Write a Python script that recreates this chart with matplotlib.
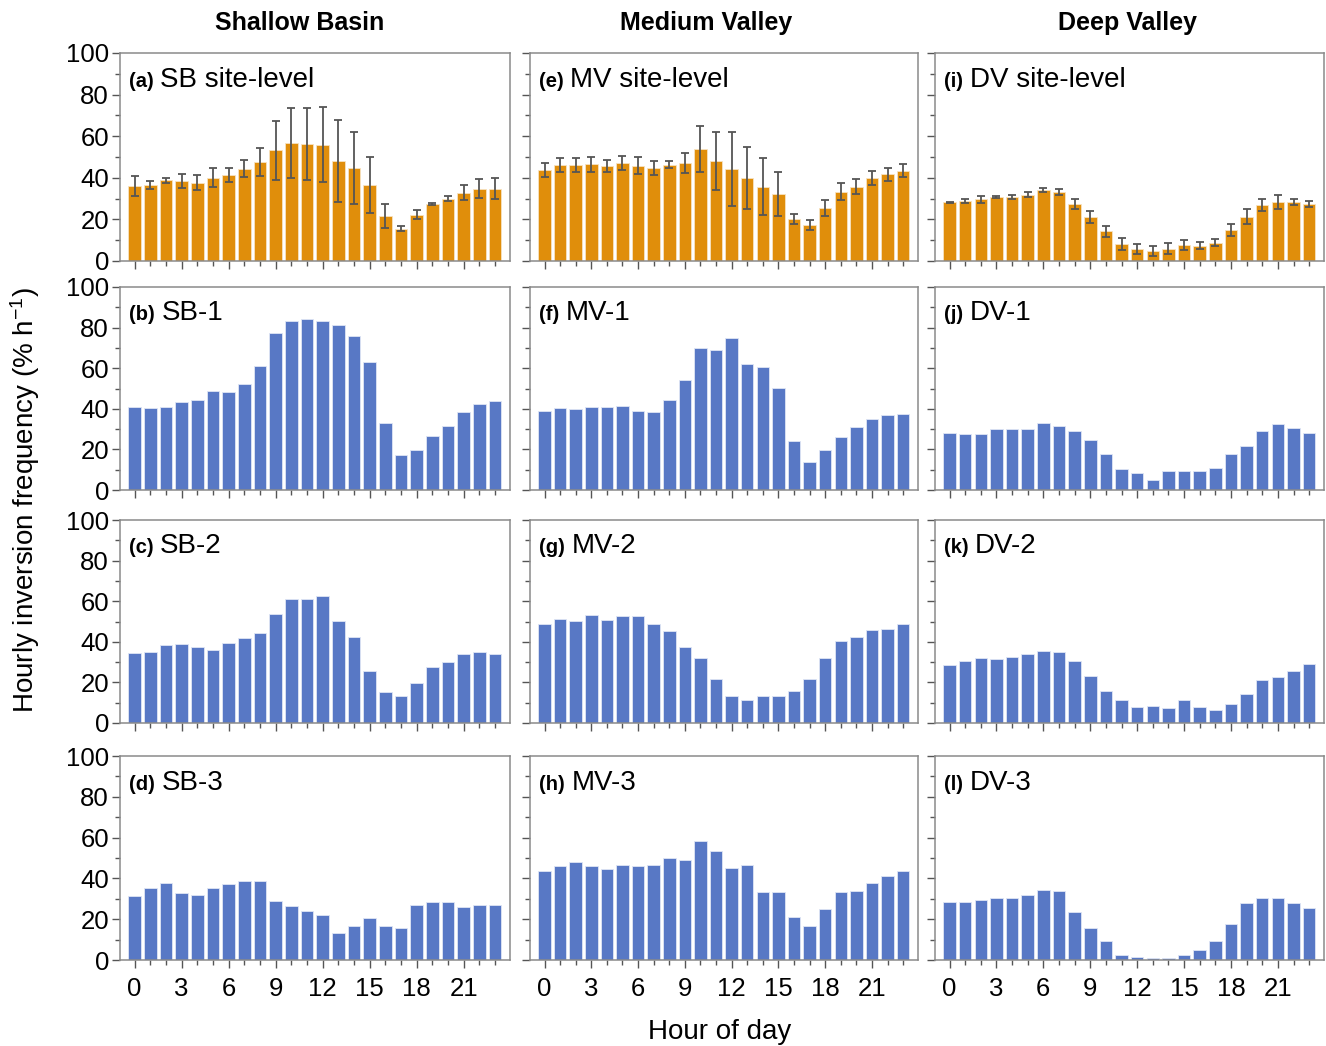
import matplotlib
matplotlib.use("Agg")
import matplotlib.pyplot as plt
import numpy as np
from matplotlib.ticker import MultipleLocator

plt.rcParams['font.family'] = ['Liberation Sans', 'DejaVu Sans']
plt.rcParams['mathtext.fontset'] = 'custom'
plt.rcParams['mathtext.rm'] = 'Liberation Sans'
plt.rcParams['mathtext.it'] = 'Liberation Sans:italic'
plt.rcParams['mathtext.bf'] = 'Liberation Sans:bold'

hours = list(range(24))
xtick_labels = ['0', '3', '6', '9', '12', '15', '18', '21']

col_titles = ['Shallow Basin', 'Medium Valley', 'Deep Valley']

# Site-level means and standard deviations (% per hour)
sb_site = [36.1, 36.6, 38.8, 38.4, 37.6, 40.1, 41.4, 44.3, 47.8, 53.3, 56.8, 56.3,
           55.9, 48.2, 44.9, 36.4, 21.5, 15.4, 22.2, 27.4, 29.9, 32.7, 34.7, 34.7]
sb_site_sd = [5.0, 2.1, 1.2, 3.3, 3.6, 4.5, 3.4, 4.1, 6.7, 14.2, 16.7, 17.4,
              18.1, 19.8, 17.3, 13.5, 5.8, 1.2, 2.2, 0.5, 1.2, 3.6, 4.5, 5.0]
mv_site = [43.8, 46.0, 46.2, 46.5, 45.5, 47.1, 45.9, 44.7, 46.3, 47.1, 53.7, 47.9,
           44.4, 40.0, 35.8, 32.2, 20.2, 17.4, 25.5, 33.4, 35.8, 39.8, 41.6, 43.5]
mv_site_sd = [3.3, 3.4, 3.4, 3.6, 2.9, 3.5, 4.2, 3.4, 1.7, 4.7, 11.0, 14.0,
              17.8, 15.0, 13.8, 10.7, 2.5, 2.3, 3.8, 4.3, 3.5, 3.4, 3.0, 3.3]
dv_site = [28.3, 28.8, 29.6, 30.6, 30.9, 31.9, 34.2, 33.2, 27.5, 21.2, 14.2, 8.1,
           6.0, 4.7, 5.9, 7.8, 7.3, 8.8, 14.7, 21.3, 26.9, 28.5, 28.2, 27.5]
dv_site_sd = [0.3, 0.9, 1.5, 0.5, 1.0, 1.3, 0.8, 1.3, 2.3, 2.9, 2.8, 2.9,
              2.4, 2.3, 2.6, 2.5, 1.6, 1.6, 2.9, 3.7, 3.1, 3.3, 1.4, 1.3]

# Individual stations (% per hour)
sb_1 = [41.1, 40.3, 41.1, 43.4, 44.4, 49.0, 48.2, 52.3, 61.0, 77.1, 83.4, 84.2,
        83.4, 81.3, 75.7, 63.3, 33.1, 17.4, 19.9, 26.6, 31.4, 38.5, 42.3, 43.8]
sb_2 = [34.6, 35.0, 38.3, 39.0, 37.4, 36.0, 39.6, 42.0, 44.3, 53.5, 61.2, 61.2,
        62.7, 50.1, 42.5, 25.5, 15.3, 13.3, 19.7, 27.6, 29.9, 34.2, 34.8, 34.0]
sb_3 = [31.2, 35.3, 37.6, 32.8, 31.7, 35.5, 37.3, 38.9, 38.6, 28.9, 26.3, 24.0,
        22.2, 13.4, 16.7, 20.8, 16.7, 15.5, 27.0, 28.6, 28.3, 26.0, 27.1, 26.8]
mv_1 = [38.7, 40.3, 39.8, 41.0, 41.0, 41.6, 38.7, 38.2, 44.1, 54.3, 70.0, 69.2,
        74.8, 62.1, 60.8, 50.2, 24.3, 13.9, 19.5, 25.9, 30.8, 35.1, 36.7, 37.4]
mv_2 = [48.9, 51.2, 50.2, 53.0, 50.7, 52.6, 52.6, 48.9, 45.3, 37.5, 32.2, 21.5,
        13.1, 11.3, 13.1, 13.1, 15.6, 21.5, 32.2, 40.6, 42.4, 46.0, 46.5, 48.9]
mv_3 = [43.5, 45.9, 48.2, 45.9, 44.8, 46.4, 45.9, 46.4, 50.0, 48.9, 58.3, 53.6,
        45.3, 46.4, 33.2, 33.2, 21.2, 16.5, 24.8, 33.2, 33.8, 37.9, 41.2, 43.5]
dv_1 = [28.3, 27.8, 27.8, 30.2, 30.2, 30.2, 33.2, 31.4, 28.9, 24.8, 17.5, 10.1,
        8.3, 4.9, 9.2, 9.2, 9.2, 10.9, 17.5, 21.7, 28.9, 32.5, 30.7, 28.3]
dv_2 = [28.6, 30.4, 32.2, 31.5, 32.7, 33.8, 35.6, 35.1, 30.4, 23.0, 15.8, 11.1,
        8.0, 8.5, 7.3, 11.1, 8.0, 6.2, 9.2, 14.5, 21.2, 22.5, 25.8, 29.1]
dv_3 = [28.3, 28.3, 29.5, 30.3, 30.3, 31.9, 34.4, 33.9, 23.6, 15.9, 9.2, 2.6,
        1.5, 0.8, 0.8, 2.6, 5.1, 9.2, 17.7, 27.7, 30.6, 30.6, 27.7, 25.4]

site_panels = [('(a)', 'SB site-level', sb_site, sb_site_sd),
               ('(e)', 'MV site-level', mv_site, mv_site_sd),
               ('(i)', 'DV site-level', dv_site, dv_site_sd)]
station_panels = [
    [('(b)', 'SB-1', sb_1), ('(f)', 'MV-1', mv_1), ('(j)', 'DV-1', dv_1)],
    [('(c)', 'SB-2', sb_2), ('(g)', 'MV-2', mv_2), ('(k)', 'DV-2', dv_2)],
    [('(d)', 'SB-3', sb_3), ('(h)', 'MV-3', mv_3), ('(l)', 'DV-3', dv_3)],
]

ORANGE = '#E08E0B'
BLUE = '#5878C5'
SPINE = '#8a8a8a'

W, H = 1326, 1046
fig = plt.figure(figsize=(W / 100, H / 100), dpi=100)

col_x = [(120, 510), (530, 918), (935, 1324)]
row_y = [(53, 261), (287, 490), (520, 723), (756, 960)]


def make_axes(r, c):
    x0, x1 = col_x[c]
    yt, yb = row_y[r]
    ax = fig.add_axes([x0 / W, 1 - yb / H, (x1 - x0) / W, (yb - yt) / H])
    ax.set_xlim(-0.93, 23.95)
    ax.set_ylim(0, 100)
    for s in ax.spines.values():
        s.set_color(SPINE)
        s.set_linewidth(1.1)
    ax.xaxis.set_major_locator(MultipleLocator(3))
    ax.xaxis.set_minor_locator(MultipleLocator(1))
    ax.yaxis.set_major_locator(MultipleLocator(20))
    ax.yaxis.set_minor_locator(MultipleLocator(10))
    ax.tick_params(which='both', direction='out', color='#555555', width=1.0,
                   labelsize=18.5, top=False, right=False)
    ax.tick_params(which='major', length=6)
    ax.tick_params(which='minor', length=3.5)
    ax.tick_params(axis='y', pad=2)
    ax.tick_params(axis='x', pad=6)
    if r == 3:
        ax.set_xticks(range(0, 24, 3))
        ax.set_xticklabels(xtick_labels)
    else:
        ax.tick_params(axis='x', labelbottom=False)
    if c != 0:
        ax.tick_params(axis='y', labelleft=False)
    return ax


def label_panel(ax, tag, name):
    t = ax.text(0.022, 0.835, tag, transform=ax.transAxes, fontsize=14.5,
                fontweight='bold', va='baseline', ha='left')
    fig.canvas.draw()
    bb = t.get_window_extent()
    x_px = bb.x1 + 7
    xa = ax.transAxes.inverted().transform((x_px, 0))[0]
    ax.text(xa, 0.835, name, transform=ax.transAxes, fontsize=20,
            va='baseline', ha='left')


for c, (tag, name, vals, sd) in enumerate(site_panels):
    ax = make_axes(0, c)
    ax.bar(hours, vals, width=0.8, color=ORANGE, edgecolor='#f7e2c0',
           linewidth=0.6, zorder=2)
    ax.errorbar(hours, vals, yerr=sd, fmt='none', ecolor='#555555',
                elinewidth=1.3, capsize=3, capthick=1.3, zorder=3)
    label_panel(ax, tag, name)

for r, row in enumerate(station_panels, start=1):
    for c, (tag, name, vals) in enumerate(row):
        ax = make_axes(r, c)
        ax.bar(hours, vals, width=0.8, color=BLUE, edgecolor='#dfe5f5',
               linewidth=0.6, zorder=2)
        label_panel(ax, tag, name)

title_pos = [300, 706, 1128]
for x, t in zip(title_pos, col_titles):
    fig.text(x / W, 1 - 23 / H, t, fontsize=18, fontweight='bold',
             ha='center', va='center')

fig.text(25 / W, 1 - 500 / H, 'Hourly inversion frequency (% h$^{-1}$)',
         rotation=90, fontsize=20, ha='center', va='center')
fig.text(720 / W, 1 - 1032 / H, 'Hour of day', fontsize=20,
         ha='center', va='center')

fig.savefig('out.png', dpi=100, facecolor='white')
